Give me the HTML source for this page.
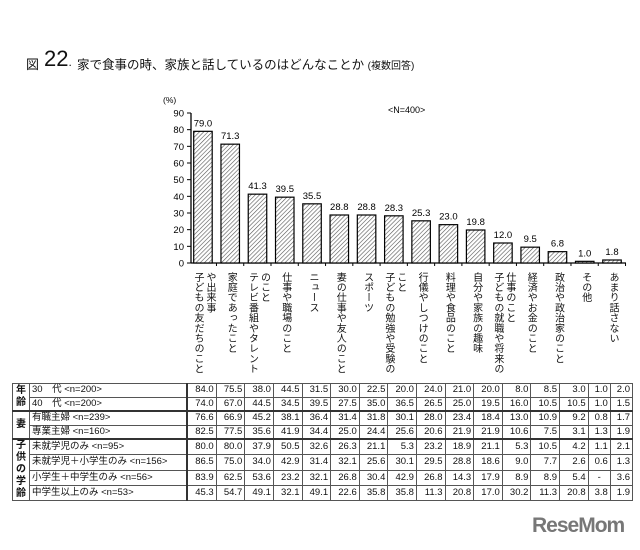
<!DOCTYPE html>
<html><head><meta charset="utf-8">
<style>
body{margin:0;width:640px;height:550px;background:#fff;position:relative;overflow:hidden;font-family:"Liberation Sans","Noto Sans CJK JP",sans-serif;color:#111}
.a{position:absolute;white-space:nowrap}
.lab{position:absolute;writing-mode:vertical-lr;text-orientation:upright;font-size:10px;line-height:12px;letter-spacing:0.2px;top:272px}
table{position:absolute;left:12px;top:383px;border-collapse:collapse;font-size:9.5px;width:621px}
td{border:1px solid #555;height:12.5px;padding:0 2px;text-align:right;line-height:12px}
td.g{text-align:center;width:16px;font-weight:bold;font-size:10px;line-height:12px;padding:0}
td.n{text-align:left;width:152px;border-right:2px solid #333}
tr.t td{border-top:2px solid #333}
</style></head><body>
<div class="a" style="left:26px;top:54px;font-size:13px">図</div>
<div class="a" style="left:44px;top:46px;font-size:22px">22<span style="font-size:12px">.</span></div>
<div class="a" style="left:77px;top:54px;font-size:12.5px">家で食事の時、家族と話しているのはどんなことか <span style="font-size:10px">(複数回答)</span></div>
<svg class="a" style="left:0;top:0" width="640" height="380">
<defs><pattern id="h" width="3" height="3" patternUnits="userSpaceOnUse" patternTransform="rotate(45)"><rect width="3" height="3" fill="#fff"/><line x1="0" y1="0" x2="0" y2="3" stroke="#555" stroke-width="1.2"/></pattern></defs>
<g id="g" font-size="9.5" font-family="Liberation Sans,sans-serif"></g>
</svg>
<div id="labs"></div>
<table id="tb"></table>
<div class="a" style="left:532px;top:514px;font-size:21px;font-weight:bold;color:#777;letter-spacing:-1px">ReseMom</div>
<script>
var v=[79.0,71.3,41.3,39.5,35.5,28.8,28.8,28.3,25.3,23.0,19.8,12.0,9.5,6.8,1.0,1.8];
var L=[["子どもの友だちのこと","や出来事"],["家庭であったこと"],["テレビ番組やタレント","のこと"],["仕事や職場のこと"],["ニュース"],["妻の仕事や友人のこと"],["スポーツ"],["子どもの勉強や受験の","こと"],["行儀やしつけのこと"],["料理や食品のこと"],["自分や家族の趣味"],["子どもの就職や将来の","仕事のこと"],["経済やお金のこと"],["政治や政治家のこと"],["その他"],["あまり話さない"]];
var g=document.getElementById('g'),s='';
var y0=263,k=150/90,x0=191,p=27.27;
s+='<text x="163" y="103" font-size="8.5">(%)</text>';
s+='<text x="388" y="113" font-size="9">&lt;N=400&gt;</text>';
for(var i=0;i<=9;i++){var y=y0-i*10*k;s+='<line x1="'+(x0-4)+'" y1="'+y+'" x2="'+x0+'" y2="'+y+'" stroke="#000"/><text x="'+(x0-7)+'" y="'+(y+3.5)+'" text-anchor="end">'+(i*10)+'</text>';}
s+='<line x1="'+x0+'" y1="'+(y0-150)+'" x2="'+x0+'" y2="'+y0+'" stroke="#000" stroke-width="1.3"/>';
s+='<line x1="'+x0+'" y1="'+y0+'" x2="626" y2="'+y0+'" stroke="#000" stroke-width="1.3"/>';
var lh='';
for(var i=0;i<16;i++){var bx=193.7+i*p,h=v[i]*k;
s+='<rect x="'+bx+'" y="'+(y0-h)+'" width="18.5" height="'+h+'" fill="url(#h)" stroke="#000" stroke-width="1.2"/>';
s+='<text x="'+(bx+9.25)+'" y="'+(y0-h-5)+'" text-anchor="middle">'+v[i].toFixed(1)+'</text>';
s+='<line x1="'+(bx+p-4.5)+'" y1="'+y0+'" x2="'+(bx+p-4.5)+'" y2="'+(y0+3)+'" stroke="#000"/>';
var n=L[i].length,lx=bx+9.25-n*6;
lh+='<div class="lab" style="left:'+lx+'px">'+L[i].join('<br>')+'</div>';}
g.innerHTML=s;document.getElementById('labs').innerHTML=lh;
var R=[["年<br>齢",2,"30　代 &lt;n=200&gt;","84.0 75.5 38.0 44.5 31.5 30.0 22.5 20.0 24.0 21.0 20.0 8.0 8.5 3.0 1.0 2.0"],
[null,0,"40　代 &lt;n=200&gt;","74.0 67.0 44.5 34.5 39.5 27.5 35.0 36.5 26.5 25.0 19.5 16.0 10.5 10.5 1.0 1.5"],
["妻",2,"有職主婦 &lt;n=239&gt;","76.6 66.9 45.2 38.1 36.4 31.4 31.8 30.1 28.0 23.4 18.4 13.0 10.9 9.2 0.8 1.7"],
[null,0,"専業主婦 &lt;n=160&gt;","82.5 77.5 35.6 41.9 34.4 25.0 24.4 25.6 20.6 21.9 21.9 10.6 7.5 3.1 1.3 1.9"],
["子<br>供<br>の<br>学<br>齢",4,"未就学児のみ &lt;n=95&gt;","80.0 80.0 37.9 50.5 32.6 26.3 21.1 5.3 23.2 18.9 21.1 5.3 10.5 4.2 1.1 2.1"],
[null,0,"未就学児＋小学生のみ &lt;n=156&gt;","86.5 75.0 34.0 42.9 31.4 32.1 25.6 30.1 29.5 28.8 18.6 9.0 7.7 2.6 0.6 1.3"],
[null,0,"小学生＋中学生のみ &lt;n=56&gt;","83.9 62.5 53.6 23.2 32.1 26.8 30.4 42.9 26.8 14.3 17.9 8.9 8.9 5.4 - 3.6"],
[null,0,"中学生以上のみ &lt;n=53&gt;","45.3 54.7 49.1 32.1 49.1 22.6 35.8 35.8 11.3 20.8 17.0 30.2 11.3 20.8 3.8 1.9"]];
var t='';R.forEach(function(r,j){t+='<tr'+(r[0]&&j?' class="t"':'')+'>';if(r[0])t+='<td class="g" rowspan="'+r[1]+'">'+r[0]+'</td>';t+='<td class="n">'+r[2]+'</td>';r[3].split(' ').forEach(function(x){t+='<td'+(x=='-'?' style="text-align:center"':'')+'>'+x+'</td>';});t+='</tr>';});
document.getElementById('tb').innerHTML=t;
</script>
</body></html>
